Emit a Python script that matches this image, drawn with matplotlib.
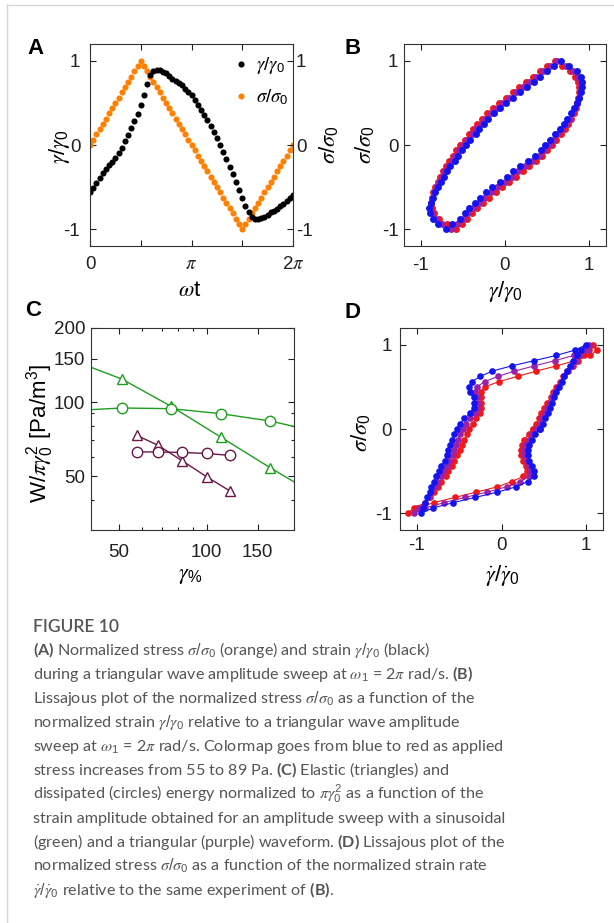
import numpy as np
import matplotlib
matplotlib.use('Agg')
import matplotlib.pyplot as plt
from matplotlib.lines import Line2D
from matplotlib.ticker import FixedLocator, NullFormatter

plt.rcParams['font.family'] = ['Liberation Sans', 'DejaVu Sans']
plt.rcParams['mathtext.fontset'] = 'custom'
plt.rcParams['mathtext.rm'] = 'Liberation Sans'
plt.rcParams['mathtext.it'] = 'STIXGeneral:italic'
plt.rcParams['mathtext.bf'] = 'Lato:bold'

# ---- data ----
# sample phase (in units of pi), 64 samples per cycle
phase = [0, 0.031, 0.062, 0.094, 0.125, 0.156, 0.188, 0.219, 0.25, 0.281, 0.312, 0.344, 0.375, 0.406, 0.438, 0.469,
         0.5, 0.531, 0.562, 0.594, 0.625, 0.656, 0.688, 0.719, 0.75, 0.781, 0.812, 0.844, 0.875, 0.906, 0.938, 0.969,
         1.0, 1.031, 1.062, 1.094, 1.125, 1.156, 1.188, 1.219, 1.25, 1.281, 1.312, 1.344, 1.375, 1.406, 1.438, 1.469,
         1.5, 1.531, 1.562, 1.594, 1.625, 1.656, 1.688, 1.719, 1.75, 1.781, 1.812, 1.844, 1.875, 1.906, 1.938, 1.969, 2.0]

# normalized stress (triangular wave)
sigma = [0, .0625, .125, .1875, .25, .3125, .375, .4375, .5, .5625, .625, .6875, .75, .8125, .875, .9375,
         1, .9375, .875, .8125, .75, .6875, .625, .5625, .5, .4375, .375, .3125, .25, .1875, .125, .0625,
         0, -.0625, -.125, -.1875, -.25, -.3125, -.375, -.4375, -.5, -.5625, -.625, -.6875, -.75, -.8125, -.875, -.9375,
         -1, -.9375, -.875, -.8125, -.75, -.6875, -.625, -.5625, -.5, -.4375, -.375, -.3125, -.25, -.1875, -.125, -.0625, 0]

# normalized strain, panel A
gamma_a = [-.56, -.51, -.45, -.39, -.33, -.28, -.24, -.20, -.16, -.10, -.03, .05, .12, .20, .28, .37,
           .47, .59, .72, .83, .88, .89, .89, .87, .85, .82, .79, .76, .74, .71, .67, .63,
           .59, .54, .48, .42, .36, .30, .23, .15, .08, .00, -.08, -.17, -.26, -.35, -.44, -.53,
           -.63, -.72, -.80, -.86, -.88, -.88, -.87, -.85, -.83, -.80, -.78, -.76, -.73, -.70, -.66, -.63, -.59]

# panel B: strain loops (low stress = blue ... high stress = red)
gamma_blue = [-.46, -.41, -.35, -.31, -.25, -.20, -.13, -.06, .01, .10, .18, .26, .34, .42, .50, .58,
              .66, .76, .85, .90, .92, .91, .90, .88, .85, .82, .78, .74, .70, .65, .59, .54,
              .48, .43, .36, .27, .18, .10, .02, -.06, -.15, -.22, -.30, -.36, -.43, -.48, -.54, -.63,
              -.70, -.80, -.86, -.89, -.90, -.88, -.86, -.83, -.80, -.76, -.73, -.69, -.65, -.60, -.56, -.51]
gamma_purple = [-.50, -.45, -.39, -.35, -.29, -.24, -.17, -.10, -.03, .05, .13, .21, .29, .37, .45, .54,
                .62, .72, .81, .87, .90, .90, .89, .88, .86, .83, .80, .77, .73, .68, .62, .57,
                .52, .46, .40, .32, .24, .16, .08, .00, -.09, -.17, -.25, -.31, -.38, -.44, -.50, -.57,
                -.64, -.75, -.82, -.87, -.89, -.88, -.87, -.84, -.82, -.78, -.75, -.71, -.68, -.63, -.59, -.55]
gamma_red = [-.53, -.48, -.43, -.38, -.33, -.27, -.21, -.14, -.07, .01, .09, .17, .25, .33, .41, .50,
             .59, .68, .77, .83, .87, .88, .88, .87, .86, .84, .82, .79, .75, .71, .66, .61,
             .56, .50, .44, .37, .29, .21, .13, .05, -.03, -.11, -.19, -.26, -.33, -.39, -.45, -.51,
             -.58, -.69, -.78, -.84, -.87, -.88, -.87, -.85, -.83, -.80, -.77, -.74, -.70, -.66, -.62, -.58]

# panel D: strain-rate loops
rate_blue = [.45, .49, .52, .55, .57, .60, .62, .65, .68, .71, .74, .77, .81, .85, .89, .94,
             1.0, .87, .65, .39, .12, -.11, -.25, -.35, -.38, -.37, -.33, -.32, -.33, -.37, -.44, -.49,
             -.53, -.56, -.58, -.61, -.63, -.65, -.67, -.71, -.74, -.77, -.80, -.83, -.85, -.88, -.90, -.93,
             -.95, -.81, -.57, -.31, -.05, .17, .31, .39, .38, .36, .33, .31, .31, .32, .36, .40]
rate_purple = [.41, .45, .48, .51, .54, .57, .60, .63, .67, .70, .74, .78, .83, .88, .93, .99,
               1.04, 1.02, .86, .63, .39, .15, -.04, -.20, -.29, -.31, -.29, -.28, -.29, -.31, -.37, -.42,
               -.46, -.49, -.51, -.54, -.56, -.59, -.62, -.65, -.69, -.72, -.76, -.79, -.83, -.86, -.90, -.98,
               -1.03, -.90, -.68, -.43, -.17, .06, .22, .33, .34, .33, .30, .27, .27, .28, .32, .36]
rate_red = [.37, .41, .44, .47, .50, .54, .58, .61, .65, .69, .73, .79, .85, .91, .97, 1.03,
            1.08, 1.13, 1.05, .87, .65, .41, .19, -.03, -.20, -.24, -.24, -.24, -.24, -.26, -.30, -.34,
            -.38, -.41, -.44, -.47, -.49, -.53, -.56, -.59, -.63, -.66, -.71, -.75, -.80, -.84, -.90, -1.03,
            -1.11, -1.0, -.80, -.55, -.30, -.05, .12, .26, .30, .29, .26, .23, .23, .24, .27, .32]

# panel C: energies vs strain amplitude (%)
amp_sin = [34.5, 51.1, 75.6, 112, 166, 246]
elastic_sin = [148, 124, 96, 72, 54, 41]
dissip_sin = [92.3, 94.6, 94.0, 89.7, 83.7, 75.3]
amp_tri = [57.4, 67.9, 82.5, 100, 120.5]
elastic_tri = [73.3, 66.8, 57.7, 49.7, 43.5]
dissip_tri = [62.7, 62.7, 62.4, 61.8, 60.7]

orange = '#ff8000'
loop_colors = ['#f01818', '#9a22a8', '#1414f0']  # red, purple, blue (blue drawn last)
green = '#1e9e1e'
purple = '#6b1747'

W, H = 614, 923
fig = plt.figure(figsize=(W / 100, H / 100), dpi=100)


def add_ax(l, t, r, b):
    return fig.add_axes([l / W, 1 - b / H, (r - l) / W, (b - t) / H])


def style(ax, ypad=5, xpad=7):
    ax.tick_params(which='both', direction='in', top=True, right=True, width=0.8, colors='#222222', labelsize=13.5)
    ax.tick_params(which='major', length=4.5)
    ax.tick_params(which='minor', length=2.5)
    ax.tick_params(axis='y', pad=ypad)
    ax.tick_params(axis='x', pad=xpad)
    for s in ax.spines.values():
        s.set_linewidth(0.8)
        s.set_color('#333333')


def ylab(ax, text, cx, cy, fs=16):
    # cx, cy: label centre in figure pixels
    ax.set_ylabel(text, fontsize=fs, ha='center', va='center')
    ax.yaxis.set_label_coords(cx / W, 1 - cy / H, transform=fig.transFigure)


def xlab(ax, text, cx, cy, fs=16):
    ax.set_xlabel(text, fontsize=fs, ha='center', va='center')
    ax.xaxis.set_label_coords(cx / W, 1 - cy / H, transform=fig.transFigure)


# ---- A ----
axA = add_ax(90, 44, 293, 246)
t = np.array(phase) * np.pi
axA.plot(t, sigma, 'o', color=orange, ms=4.4, mec='none', label=r'$\sigma/\sigma_0$')
axA.plot(t, gamma_a, 'o', color='black', ms=4.4, mec='none', label=r'$\gamma/\gamma_0$')
axA.set_xlim(0, 2 * np.pi)
axA.set_ylim(-1.2, 1.2)
axA.set_xticks([0, np.pi / 2, np.pi, 3 * np.pi / 2, 2 * np.pi])
axA.set_xticklabels(['0', '', r'$\pi$', '', r'2$\pi$'])
axA.set_yticks([-1, 0, 1])
axA.set_yticklabels(['-1', '0', '1'])
style(axA, ypad=7, xpad=7)
axA.tick_params(right=False)
ylab(axA, r'$\gamma/\gamma_0$', 59, 147)
xlab(axA, r'$\omega$t', 190, 290)
h, l = axA.get_legend_handles_labels()
axA.legend(h[::-1], l[::-1], loc='upper left', bbox_to_anchor=(0.65, 1.0), frameon=False, fontsize=13.5,
           handlelength=0.8, handletextpad=0.4, labelspacing=0.6, borderaxespad=0.2)
axA2 = axA.twinx()
axA2.set_ylim(-1.2, 1.2)
axA2.set_yticks([-1, 0, 1])
axA2.set_yticklabels(['-1', '0', '1'])
axA2.tick_params(direction='in', length=4.5, width=0.8, labelsize=13.5, colors='#222222', pad=2)
for s in axA2.spines.values():
    s.set_visible(False)
ylab(axA2, r'$\sigma/\sigma_0$', 329, 145)

# ---- B ----
axB = add_ax(404, 44, 606, 246)
for g, c in zip([gamma_red, gamma_purple, gamma_blue], loop_colors):
    axB.plot(g, sigma[:64], 'o', color=c, ms=5.0, mec='none')
axB.set_xlim(-1.2, 1.2)
axB.set_ylim(-1.2, 1.2)
axB.set_xticks([-1, 0, 1])
axB.set_xticklabels(['-1', '0', '1'])
axB.set_yticks([-1, 0, 1])
axB.set_yticklabels(['-1', '0', '1'])
style(axB, ypad=4, xpad=8)
ylab(axB, r'$\sigma/\sigma_0$', 365, 145)
xlab(axB, r'$\gamma/\gamma_0$', 505, 291)

# ---- C ----
axC = add_ax(91, 328, 294, 530)
axC.set_xscale('log')
axC.set_yscale('log')
axC.plot(amp_sin, elastic_sin, '-^', color=green, mfc='white', mec=green, ms=7.5, lw=1, mew=1)
axC.plot(amp_sin, dissip_sin, '-o', color=green, mfc='white', mec=green, ms=7.5, lw=1, mew=1)
axC.plot(amp_tri, elastic_tri, '-^', color=purple, mfc='white', mec=purple, ms=7.5, lw=1, mew=1)
axC.plot(amp_tri, dissip_tri, '-o', color=purple, mfc='white', mec=purple, ms=7.5, lw=1, mew=1)
axC.set_xlim(40, 200)
axC.set_ylim(30.2, 200)
axC.xaxis.set_major_locator(FixedLocator([50, 100, 150]))
axC.xaxis.set_minor_locator(FixedLocator([60, 70, 80, 90, 200]))
axC.set_xticklabels(['50', '100', '150'])
axC.xaxis.set_minor_formatter(NullFormatter())
axC.yaxis.set_major_locator(FixedLocator([50, 100, 150, 200]))
axC.yaxis.set_minor_locator(FixedLocator([40, 60, 70, 80, 90]))
axC.set_yticklabels(['50', '100', '150', '200'])
axC.yaxis.set_minor_formatter(NullFormatter())
style(axC, ypad=4, xpad=10)
ylab(axC, r'W/$\pi\gamma_0^2$ [Pa/m$^3$]', 40, 433)
xlab(axC, r'$\gamma_{\%}$', 190, 576)

# ---- D ----
axD = add_ax(400, 328, 603, 530)
sig_loop = sigma[:64] + [sigma[0]]
for r, c in zip([rate_red, rate_purple, rate_blue], loop_colors):
    axD.plot(r + [r[0]], sig_loop, '-o', color=c, ms=4.8, mec='none', lw=0.8)
axD.set_xlim(-1.2, 1.2)
axD.set_ylim(-1.2, 1.2)
axD.set_xticks([-1, 0, 1])
axD.set_xticklabels(['-1', '0', '1'])
axD.set_yticks([-1, 0, 1])
axD.set_yticklabels(['-1', '0', '1'])
style(axD, ypad=6, xpad=5)
ylab(axD, r'$\sigma/\sigma_0$', 361, 433)
xlab(axD, r'$\dot{\gamma}/\dot{\gamma}_0$', 502, 576)

# panel letters
for s, (x, y) in zip('ABCD', [(35, 48), (353, 49), (33, 311), (353, 313)]):
    fig.text(x / W, 1 - y / H, s, fontsize=16, fontweight='bold', ha='center', va='center')

# card border
fig.add_artist(Line2D([7 / W, 7 / W], [0, 1 - 5 / H], transform=fig.transFigure, color='#d6d6d6', lw=1))
fig.add_artist(Line2D([7 / W, 1], [1 - 5 / H, 1 - 5 / H], transform=fig.transFigure, color='#d6d6d6', lw=1))

# caption
cap_color = '#555555'
fig.text(33 / W, 1 - 632 / H, 'FIGURE 10', fontsize=12.5, fontweight='semibold', family=['Lato', 'DejaVu Sans'],
         color=cap_color, va='baseline', ha='left')
caption = [
    r'$\mathbf{(A)}$ Normalized stress $\sigma/\sigma_0$ (orange) and strain $\gamma/\gamma_0$ (black)',
    r'during a triangular wave amplitude sweep at $\omega_1$ = 2$\pi$ rad/s. $\mathbf{(B)}$',
    r'Lissajous plot of the normalized stress $\sigma/\sigma_0$ as a function of the',
    r'normalized strain $\gamma/\gamma_0$ relative to a triangular wave amplitude',
    r'sweep at $\omega_1$ = 2$\pi$ rad/s. Colormap goes from blue to red as applied',
    r'stress increases from 55 to 89 Pa. $\mathbf{(C)}$ Elastic (triangles) and',
    r'dissipated (circles) energy normalized to $\pi\gamma_0^2$ as a function of the',
    r'strain amplitude obtained for an amplitude sweep with a sinusoidal',
    r'(green) and a triangular (purple) waveform. $\mathbf{(D)}$ Lissajous plot of the',
    r'normalized stress $\sigma/\sigma_0$ as a function of the normalized strain rate',
    r'$\dot{\gamma}/\dot{\gamma}_0$ relative to the same experiment of $\mathbf{(B)}$.',
]
for i, line in enumerate(caption):
    fig.text(33 / W, 1 - (655 + 24 * i) / H, line, fontsize=11.6, family=['Lato', 'DejaVu Sans'],
             color=cap_color, va='baseline', ha='left')

fig.savefig('out.png', dpi=100)
